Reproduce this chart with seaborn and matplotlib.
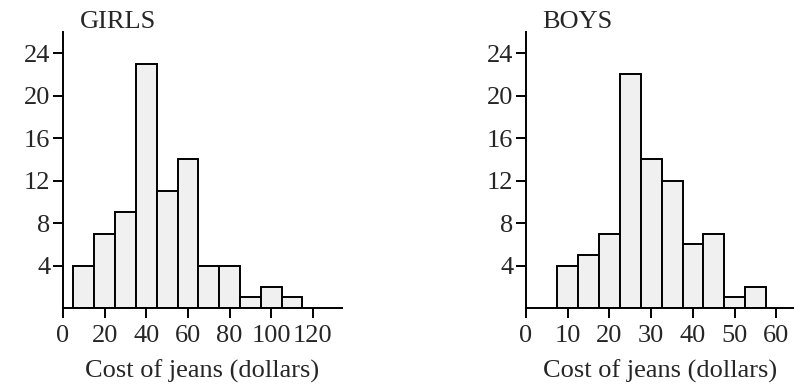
import matplotlib
matplotlib.use("Agg")
import matplotlib.pyplot as plt
import seaborn as sns
import numpy as np
import pandas as pd

# Data
girls_bin_start = 5
girls_bin_width = 10
girls_counts = [4, 7, 9, 23, 11, 14, 4, 4, 1, 2, 1]
boys_bin_start = 7.5
boys_bin_width = 5
boys_counts = [4, 5, 7, 22, 14, 12, 6, 7, 1, 2]
girls_xticks = [0, 20, 40, 60, 80, 100, 120]
boys_xticks = [0, 10, 20, 30, 40, 50, 60]
yticks = [4, 8, 12, 16, 20, 24]
xlabel = "Cost of jeans (dollars)"

sns.set_style("white")
plt.rcParams['font.family'] = ['Liberation Serif', 'DejaVu Serif']
plt.rcParams['font.size'] = 19

fig = plt.figure(figsize=(7.94, 3.86), dpi=100)
W, H = 794, 386
ax_g = fig.add_axes([63 / W, 1 - 308 / H, (342 - 63) / W, (308 - 32) / H])
ax_b = fig.add_axes([526 / W, 1 - 308 / H, (794 - 526) / W, (308 - 32) / H])


def draw(ax, start, width, counts, xticks, xmax, title):
    n = len(counts)
    edges = start + width * np.arange(n + 1)
    centers = edges[:-1] + width / 2
    df = pd.DataFrame({"x": centers, "w": counts})
    sns.histplot(data=df, x="x", weights="w", binwidth=width,
                 binrange=(float(edges[0]), float(edges[-1])), ax=ax,
                 color="#f0f0f0", edgecolor="black", linewidth=1.4, alpha=1)
    ax.set_xlim(0, xmax)
    ax.set_ylim(0, 26)
    ax.set_xticks(xticks)
    ax.set_yticks(yticks)
    ax.set_xticklabels([str(t) for t in xticks])
    ax.set_yticklabels([str(t) for t in yticks])
    ax.set_ylabel("")
    ax.set_xlabel(xlabel, labelpad=9)
    for s in ["top", "right"]:
        ax.spines[s].set_visible(False)
    for s in ["left", "bottom"]:
        ax.spines[s].set_linewidth(1.4)
        ax.spines[s].set_color("black")
    ax.tick_params(axis="both", direction="out", length=7, width=1.4,
                   color="black", labelsize=19, left=True, bottom=True)
    ax.tick_params(axis="x", pad=5)
    ax.tick_params(axis="y", pad=2)
    ax.text(0.06, 1 + 4 / 276, title, transform=ax.transAxes,
            va="baseline", ha="left", fontsize=19)


draw(ax_g, girls_bin_start, girls_bin_width, girls_counts, girls_xticks, 134, "GIRLS")
draw(ax_b, boys_bin_start, boys_bin_width, boys_counts, boys_xticks, 64.2, "BOYS")

fig.savefig("out.png", dpi=100)
